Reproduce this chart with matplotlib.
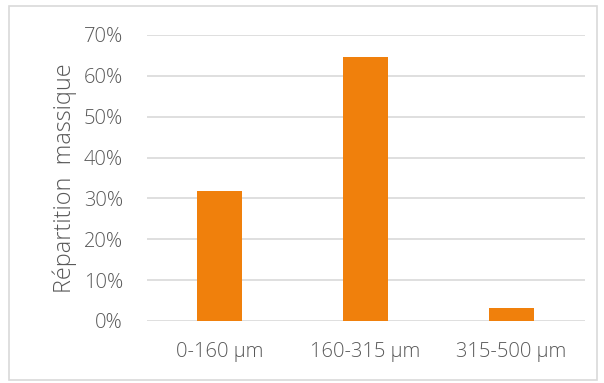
import matplotlib
matplotlib.use("Agg")
import matplotlib.pyplot as plt
from matplotlib.patches import Rectangle
from matplotlib.ticker import PercentFormatter

categories = ["0-160 µm", "160-315 µm", "315-500 µm"]
values = [31.8, 64.5, 3.3]
yticks = [0, 10, 20, 30, 40, 50, 60, 70]

plt.rcParams['font.family'] = ['Open Sans', 'DejaVu Sans']

fig = plt.figure(figsize=(6.04, 3.83), dpi=100)
ax = fig.add_axes([146.5/604, 1-321/383, (584.5-146.5)/604, (321-35)/383])

x = range(len(categories))
ax.bar(x, values, width=0.31, color="#F0800C", zorder=3)
ax.set_xlim(-0.5, 2.5)
ax.set_ylim(0, 70)
ax.set_yticks(yticks)
ax.yaxis.set_major_formatter(PercentFormatter(decimals=0))
ax.set_xticks(list(x))
ax.set_xticklabels(categories)
ax.grid(axis='y', color='#D9D9D9', linewidth=1.2, zorder=0)
for s in ax.spines.values():
    s.set_visible(False)
ax.tick_params(axis='both', length=0, labelsize=14.5, colors='#595959', labelcolor='#595959')
ax.tick_params(axis='y', pad=17)
ax.tick_params(axis='x', pad=15)
for lab in ax.get_xticklabels() + ax.get_yticklabels():
    lab.set_fontweight('light')
ax.set_ylabel("Répartition  massique", fontsize=16.8, color='#595959', fontweight='light', labelpad=5)

fig.patches.append(Rectangle((8.5/604, 1-380/383), (597-8.5)/604, (380-5.5)/383,
                             transform=fig.transFigure, fill=False, edgecolor='#D9D9D9', linewidth=1.2))
fig.savefig("out.png", dpi=100)
